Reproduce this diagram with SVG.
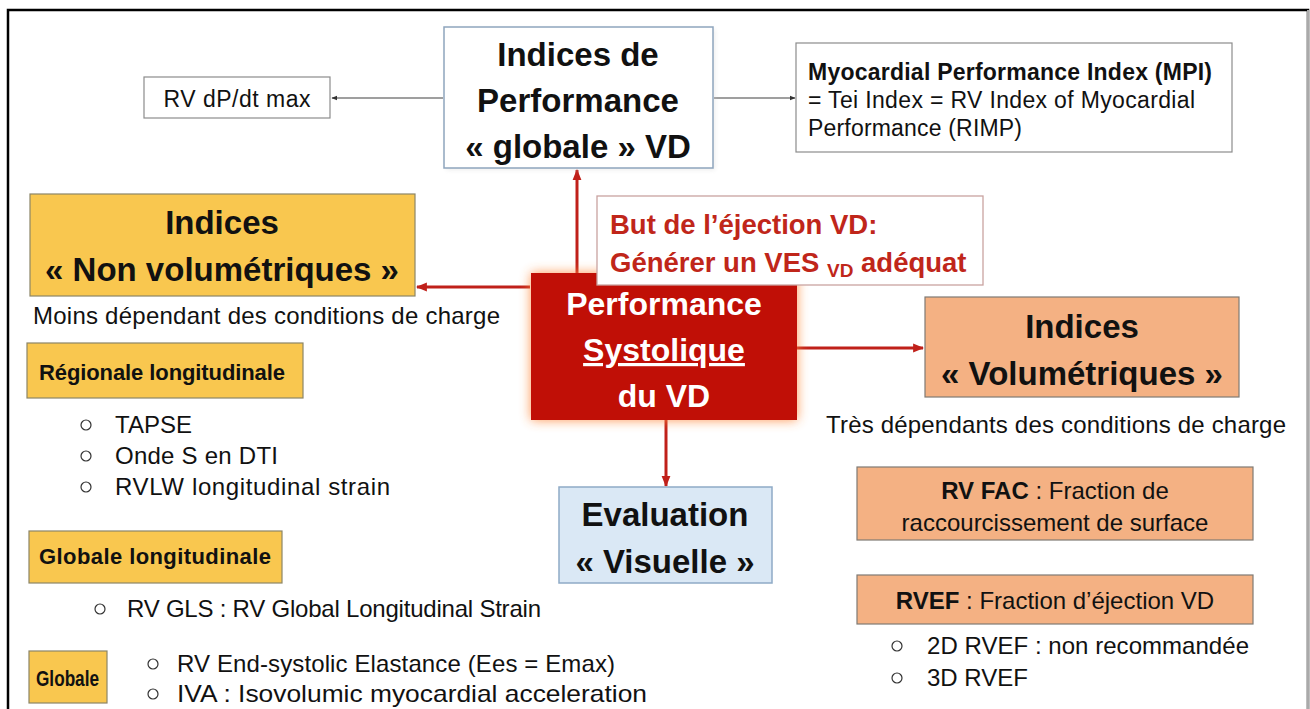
<svg xmlns="http://www.w3.org/2000/svg" width="1310" height="709" viewBox="0 0 1310 709">
<defs>
<style>
text{font-family:"Liberation Sans",Arial,sans-serif;fill:#111}
.big{font-size:33px;font-weight:bold;text-anchor:middle}
.mid{font-size:24px}
.sm{font-size:23px}
.lab{font-size:22px;font-weight:bold}
.red{fill:#c0261a;font-weight:bold;font-size:27.5px}
.wht{fill:#fff;font-weight:bold;font-size:32px;text-anchor:middle}
.yel{fill:#f9c74f;stroke:#8c8567;stroke-width:1.2}
.sal{fill:#f4b183;stroke:#7f7a74;stroke-width:1.2}
.bul{fill:none;stroke:#333;stroke-width:1.2}
.gline{stroke:#7f7f7f;stroke-width:1.3;fill:none}
.rline{stroke:#c0201a;stroke-width:3;fill:none}
</style>
<marker id="ga" viewBox="0 0 10 10" refX="9" refY="5" markerWidth="6" markerHeight="6" orient="auto" markerUnits="userSpaceOnUse">
<path d="M0,1 L10,5 L0,9 z" fill="#333"/>
</marker>
<marker id="ra" viewBox="0 0 10 10" refX="9" refY="5" markerWidth="11" markerHeight="11" orient="auto" markerUnits="userSpaceOnUse">
<path d="M0,1 L10,5 L0,9 z" fill="#c0201a"/>
</marker>
<filter id="glow" x="-20%" y="-20%" width="140%" height="140%">
<feGaussianBlur stdDeviation="6"/>
</filter>
<filter id="sh" x="-10%" y="-10%" width="120%" height="120%">
<feGaussianBlur stdDeviation="2"/>
</filter>
</defs>
<rect width="1310" height="709" fill="#fff"/>
<path d="M8,709 V10 H1308 V709" fill="none" stroke="#000" stroke-width="2.5"/>
<line x1="1308" y1="10" x2="1308" y2="709" stroke="#aaa" stroke-width="2"/>

<g id="connectors">
<line class="gline" x1="443" y1="98" x2="332" y2="98" marker-end="url(#ga)"/>
<line class="gline" x1="714" y1="98" x2="795" y2="98" marker-end="url(#ga)"/>
<line class="rline" x1="530" y1="287" x2="417" y2="287" marker-end="url(#ra)"/>
<line class="rline" x1="577" y1="273" x2="577" y2="170" marker-end="url(#ra)"/>
<line class="rline" x1="797" y1="348" x2="923" y2="348" marker-end="url(#ra)"/>
<line class="rline" x1="666" y1="420" x2="666" y2="486" marker-end="url(#ra)"/>
</g>

<g id="rvdpdt">
<rect x="144" y="77" width="186" height="41" fill="#fff" stroke="#8c8c8c" stroke-width="1.2"/>
<text class="sm" x="237" y="107" text-anchor="middle" textLength="147">RV dP/dt max</text>
</g>

<g id="globale-vd">
<rect x="446" y="29" width="269" height="141" fill="#ccc" opacity="0.35" filter="url(#sh)"/>
<rect x="444" y="27" width="269" height="141" fill="#fff" stroke="#8ea5bd" stroke-width="1.5"/>
<text class="big" x="578" y="66">Indices de</text>
<text class="big" x="578" y="112">Performance</text>
<text class="big" x="578" y="158">« globale » VD</text>
</g>

<g id="mpi">
<rect x="796" y="43" width="436" height="109" fill="#fff" stroke="#8c8c8c" stroke-width="1.2"/>
<text class="sm" x="808" y="80" font-weight="bold" textLength="404">Myocardial Performance Index (MPI)</text>
<text class="sm" x="808" y="108" textLength="387">= Tei Index = RV Index of Myocardial</text>
<text class="sm" x="808" y="136" textLength="214">Performance (RIMP)</text>
</g>

<g id="non-volumetriques">
<rect class="yel" x="30" y="194" width="385" height="102"/>
<text class="big" x="222" y="234">Indices</text>
<text class="big" x="222" y="281">« Non volumétriques »</text>
<text class="mid" x="33" y="324" textLength="467">Moins dépendant des conditions de charge</text>
</g>

<g id="performance-systolique">
<rect x="531" y="273" width="266" height="147" fill="#ff8a3c" opacity="0.9" filter="url(#glow)"/>
<rect x="531" y="273" width="266" height="147" fill="#c00f06"/>
<text class="wht" x="664" y="315">Performance</text>
<text class="wht" x="664" y="361" text-decoration="underline">Systolique</text>
<text class="wht" x="664" y="407">du VD</text>
</g>

<g id="but-ejection">
<rect x="597" y="196" width="386" height="89" fill="#fff" stroke="#c9a3a0" stroke-width="1.3"/>
<text class="red" x="610" y="234">But de l’éjection VD:</text>
<text class="red" x="610" y="272">Générer un VES <tspan font-size="19" dy="5">VD</tspan><tspan dy="-5"> adéquat</tspan></text>
</g>

<g id="volumetriques">
<rect class="sal" x="925" y="297" width="314" height="100"/>
<text class="big" x="1082" y="338">Indices</text>
<text class="big" x="1082" y="385">« Volumétriques »</text>
<text class="mid" x="826" y="433" textLength="460">Très dépendants des conditions de charge</text>
</g>

<g id="evaluation-visuelle">
<rect x="559" y="487" width="213" height="96" fill="#dae8f5" stroke="#8faac6" stroke-width="1.5"/>
<text class="big" x="665" y="526">Evaluation</text>
<text class="big" x="665" y="573">« Visuelle »</text>
</g>

<g id="regionale-longitudinale">
<rect class="yel" x="27" y="343" width="276" height="55"/>
<text class="lab" x="39" y="380" textLength="246">Régionale longitudinale</text>
<circle class="bul" cx="86" cy="425" r="5"/>
<text class="mid" x="115" y="433">TAPSE</text>
<circle class="bul" cx="86" cy="456" r="5"/>
<text class="mid" x="115" y="464" textLength="163">Onde S en DTI</text>
<circle class="bul" cx="86" cy="487" r="5"/>
<text class="mid" x="115" y="495" textLength="275">RVLW longitudinal strain</text>
</g>

<g id="globale-longitudinale">
<rect class="yel" x="29" y="531" width="253" height="52"/>
<text class="lab" x="39" y="564" textLength="232">Globale longitudinale</text>
<circle class="bul" cx="100" cy="609" r="5"/>
<text class="mid" x="127" y="617" textLength="414">RV GLS : RV Global Longitudinal Strain</text>
</g>

<g id="globale">
<rect class="yel" x="29" y="651" width="78" height="52"/>
<text class="lab" x="36" y="686" textLength="63" lengthAdjust="spacingAndGlyphs">Globale</text>
<circle class="bul" cx="153" cy="664" r="5"/>
<text class="mid" x="177" y="672" textLength="438">RV End-systolic Elastance (Ees = Emax)</text>
<circle class="bul" cx="153" cy="694" r="5"/>
<text class="mid" x="177" y="702" textLength="470" lengthAdjust="spacingAndGlyphs">IVA : Isovolumic myocardial acceleration</text>
</g>

<g id="rv-fac">
<rect class="sal" x="857" y="467" width="396" height="73"/>
<text class="mid" x="1055" y="499" text-anchor="middle"><tspan font-weight="bold">RV FAC</tspan> : Fraction de</text>
<text class="mid" x="1055" y="531" text-anchor="middle">raccourcissement de surface</text>
</g>

<g id="rvef">
<rect class="sal" x="857" y="575" width="396" height="49"/>
<text class="mid" x="1055" y="609" text-anchor="middle"><tspan font-weight="bold">RVEF</tspan> : Fraction d’éjection VD</text>
<circle class="bul" cx="897" cy="646" r="5"/>
<text class="mid" x="927" y="654" textLength="322">2D RVEF : non recommandée</text>
<circle class="bul" cx="897" cy="678" r="5"/>
<text class="mid" x="927" y="686">3D RVEF</text>
</g>
</svg>
